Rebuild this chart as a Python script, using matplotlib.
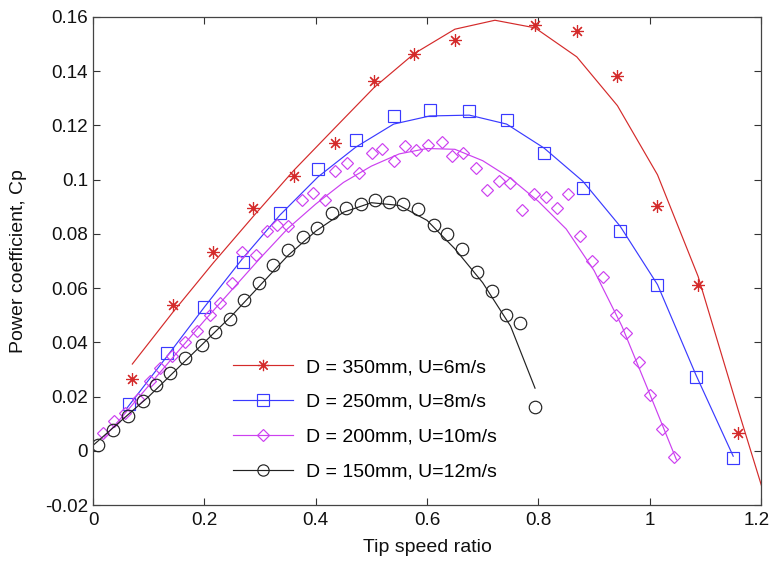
import matplotlib
matplotlib.use("Agg")
import matplotlib.pyplot as plt
from matplotlib.lines import Line2D
from matplotlib.ticker import FuncFormatter
from matplotlib.transforms import ScaledTranslation
import numpy as np

plt.rcParams['font.family'] = ['Liberation Sans', 'DejaVu Sans']

# measured points (tip speed ratio, Cp)
tsr_350 = [0.0706, 0.143, 0.216, 0.288, 0.361, 0.434, 0.505, 0.577, 0.650,
           0.794, 0.869, 0.942, 1.014, 1.087, 1.159]
cp_350 = [0.0265, 0.0539, 0.0733, 0.0896, 0.1012, 0.1135, 0.1363, 0.1465,
          0.1514, 0.1572, 0.1550, 0.1384, 0.0904, 0.0613, 0.0065]

tsr_250 = [0.0653, 0.1335, 0.200, 0.269, 0.336, 0.404, 0.472, 0.540, 0.605,
           0.676, 0.743, 0.810, 0.880, 0.947, 1.014, 1.083, 1.150]
cp_250 = [0.0173, 0.0360, 0.0530, 0.0696, 0.0877, 0.1040, 0.1148, 0.1236,
          0.1258, 0.1252, 0.1219, 0.1098, 0.0969, 0.0809, 0.0613, 0.0271,
          -0.0027]

tsr_200 = [0.0185, 0.037, 0.058, 0.081, 0.102, 0.121, 0.141, 0.165, 0.186,
           0.210, 0.228, 0.249, 0.267, 0.293, 0.312, 0.330, 0.351, 0.375,
           0.396, 0.417, 0.435, 0.457, 0.478, 0.501, 0.520, 0.541, 0.560,
           0.581, 0.602, 0.626, 0.644, 0.665, 0.688, 0.708, 0.730, 0.749,
           0.770, 0.792, 0.814, 0.834, 0.854, 0.875, 0.896, 0.917, 0.939,
           0.957, 0.980, 1.0005, 1.0215, 1.0437]
cp_200 = [0.0065, 0.0110, 0.0140, 0.0190, 0.0256, 0.0305, 0.0348, 0.0403,
          0.0440, 0.0502, 0.0545, 0.0619, 0.0735, 0.0723, 0.0809, 0.0834,
          0.0828, 0.0925, 0.0951, 0.0926, 0.1031, 0.1062, 0.1025, 0.1098,
          0.1113, 0.1068, 0.1123, 0.1111, 0.1129, 0.1138, 0.1086, 0.1098,
          0.1043, 0.0963, 0.0994, 0.0988, 0.0889, 0.0948, 0.0936, 0.0896,
          0.0948, 0.0793, 0.0699, 0.0640, 0.0502, 0.0434, 0.0326, 0.0207,
          0.0080, -0.0023]

tsr_150 = [0.009, 0.036, 0.063, 0.090, 0.114, 0.138, 0.165, 0.195, 0.219,
           0.246, 0.271, 0.299, 0.323, 0.351, 0.377, 0.403, 0.429, 0.454,
           0.481, 0.507, 0.532, 0.557, 0.584, 0.612, 0.635, 0.662, 0.690,
           0.716, 0.742, 0.767, 0.794]
cp_150 = [0.0022, 0.0077, 0.0129, 0.0183, 0.0244, 0.0286, 0.0341, 0.0389,
          0.0437, 0.0486, 0.0557, 0.0619, 0.0684, 0.0742, 0.0789, 0.0822,
          0.0877, 0.0896, 0.0912, 0.0925, 0.0916, 0.0909, 0.0892, 0.0832,
          0.0800, 0.0744, 0.0658, 0.0588, 0.0502, 0.0471, 0.0161]

# fitted curves
fit_tsr_350 = [0.0706, 0.143, 0.216, 0.288, 0.361, 0.434, 0.505, 0.577, 0.650,
               0.722, 0.794, 0.869, 0.942, 1.014, 1.087, 1.159, 1.231]
fit_cp_350 = [0.032, 0.051, 0.0693, 0.0865, 0.1035, 0.119, 0.134, 0.1465,
              0.1555, 0.1588, 0.156, 0.1453, 0.1273, 0.1018, 0.0643, 0.015,
              -0.033]

fit_tsr_250 = [0.06, 0.1335, 0.200, 0.269, 0.336, 0.404, 0.472, 0.540, 0.605,
               0.676, 0.743, 0.810, 0.880, 0.947, 1.014, 1.083, 1.150]
fit_cp_250 = [0.0155, 0.035, 0.053, 0.071, 0.087, 0.101, 0.112, 0.1205,
              0.1235, 0.1238, 0.1205, 0.1117, 0.0994, 0.0828, 0.0613, 0.028,
              -0.002]

fit_tsr_200 = [0.02, 0.05, 0.10, 0.15, 0.20, 0.25, 0.30, 0.35, 0.40, 0.45,
               0.50, 0.55, 0.60, 0.65, 0.70, 0.75, 0.80, 0.85, 0.90, 0.95,
               1.00, 1.048]
fit_cp_200 = [0.005, 0.012, 0.024, 0.036, 0.048, 0.0595, 0.071, 0.082, 0.091,
              0.099, 0.105, 0.1095, 0.1115, 0.1112, 0.107, 0.1005, 0.092,
              0.0818, 0.0665, 0.046, 0.021, -0.0033]

fit_tsr_150 = [0.0, 0.05, 0.10, 0.15, 0.20, 0.25, 0.30, 0.35, 0.40, 0.45,
               0.50, 0.55, 0.60, 0.65, 0.70, 0.75, 0.794]
fit_cp_150 = [0.002, 0.011, 0.020, 0.030, 0.040, 0.050, 0.061, 0.072, 0.081,
              0.088, 0.0915, 0.0905, 0.085, 0.0745, 0.062, 0.046, 0.0231]

labels = ['D = 350mm, U=6m/s', 'D = 250mm, U=8m/s',
          'D = 200mm, U=10m/s', 'D = 150mm, U=12m/s']
colors = ['#d42a2a', '#3a3aff', '#cc40f0', '#222222']
markers = [(8, 2, 0), 's', 'D', 'o']
msizes = [9, 8.8, 6.4, 9]

fig = plt.figure(figsize=(7.72, 5.61), dpi=100)
ax = fig.add_axes([0.1205, 0.0998, 0.8653, 0.8699])

series = [(tsr_350, cp_350, fit_tsr_350, fit_cp_350),
          (tsr_250, cp_250, fit_tsr_250, fit_cp_250),
          (tsr_200, cp_200, fit_tsr_200, fit_cp_200),
          (tsr_150, cp_150, fit_tsr_150, fit_cp_150)]

handles = []
for (x, y, fx, fy), c, m, ms, lab in zip(series, colors, markers, msizes, labels):
    ax.plot(fx, fy, color=c, lw=0.85)
    ax.plot(x, y, ls='none', marker=m, ms=ms, mfc='none', mec=c, mew=0.85)
    handles.append(Line2D([], [], color=c, lw=0.85, marker=m, ms=ms * 0.9,
                          mfc='none', mec=c, mew=0.85))

ax.set_xlim(0, 1.2)
ax.set_ylim(-0.02, 0.16)
ax.set_xticks(np.arange(0, 1.21, 0.2))
ax.set_yticks(np.arange(-0.02, 0.161, 0.02))
fmt = FuncFormatter(lambda v, p: ('%g' % round(v, 3)))
ax.xaxis.set_major_formatter(fmt)
ax.yaxis.set_major_formatter(fmt)
ax.tick_params(direction='in', top=True, right=True, length=5, width=0.8,
               labelsize=13.6, colors='#333333', labelcolor='#111111')
ax.tick_params(axis='y', pad=3.5)
ax.tick_params(axis='x', pad=5)
for s in ax.spines.values():
    s.set_color('#444444')
    s.set_linewidth(0.9)

# keep the last x tick label inside the figure
last = ax.get_xticklabels()[-1]
last.set_transform(last.get_transform() +
                   ScaledTranslation(-3 / 72, 0, fig.dpi_scale_trans))

ax.set_xlabel('Tip speed ratio', fontsize=14, labelpad=7, color='#111111')
ax.set_ylabel('Power coefficient, Cp', fontsize=14, labelpad=13, color='#111111')

ax.legend(handles, labels, loc='upper left', bbox_to_anchor=(0.2096, 0.300),
          frameon=False, fontsize=14, handlelength=3.1, handletextpad=0.67,
          labelspacing=0.88, borderaxespad=0, borderpad=0)

fig.savefig('out.png', dpi=100)
